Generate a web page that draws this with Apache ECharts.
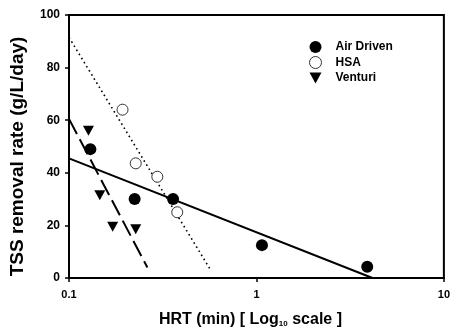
<!DOCTYPE html>
<html><head><meta charset="utf-8">
<script src="https://cdn.jsdelivr.net/npm/echarts@6/dist/echarts.min.js"></script>
<style>html,body{margin:0;padding:0;background:#fff}#c{width:453px;height:334px}</style>
</head><body><div id="c"></div>
<script>
// Data (HRT in min, TSS removal rate in g/L/day)
var airDriven = [[0.130, 49], [0.224, 30], [0.359, 30], [1.07, 12.5], [3.9, 4.3]];
var hsa = [[0.193, 64], [0.227, 43.6], [0.296, 38.5], [0.378, 25]];
var venturi = [[0.127, 56], [0.146, 31.5], [0.171, 19.5], [0.227, 18.5]];
// Fitted lines (endpoints)
var airFit = [[0.1, 45.5], [4.16, 0]];
var hsaFit = [[0.1, 91.5], [0.57, 3]];
var venturiFit = [[0.1, 60.5], [0.262, 4]];
var xTicks = [0.1, 1, 10];
var yTicks = [0, 20, 40, 60, 80, 100];

var font = 'Liberation Sans, Arial, sans-serif';
var downTri = 'path://M0,0 L10,0 L5,9 Z';
var chart = echarts.init(document.getElementById('c'), null, {renderer: 'canvas'});
chart.setOption({
  animation: false,
  backgroundColor: '#fff',
  grid: {left: 69, right: 8, top: 15, bottom: 56, show: true, borderColor: '#000', borderWidth: 2, backgroundColor: 'transparent'},
  legend: {
    orient: 'vertical', left: 309, top: 41, padding: 0, itemWidth: 12, itemHeight: 12, itemGap: 3,
    data: [
      {name: 'Air Driven', icon: 'circle', itemStyle: {color: '#000', opacity: 1}},
      {name: 'HSA', icon: 'circle', itemStyle: {color: '#fff', borderColor: '#333', borderWidth: 1, opacity: 1}},
      {name: 'Venturi', icon: downTri, itemStyle: {color: '#000', opacity: 1}}
    ],
    textStyle: {fontFamily: font, fontWeight: 'bold', fontSize: 12, color: '#000', padding: [0, 0, 0, 9]}
  },
  xAxis: {
    type: 'log', logBase: 10, min: 0.1, max: 10,
    name: 'HRT (min) [ Log{sub|10} scale ]', nameLocation: 'middle', nameGap: 33,
    nameTextStyle: {fontFamily: font, fontWeight: 'bold', fontSize: 16, color: '#000', padding: [0, 12, 0, 0],
      rich: {sub: {fontFamily: font, fontWeight: 'bold', fontSize: 8, verticalAlign: 'bottom', padding: [9,0,0,0], color: '#000'}}},
    axisLine: {lineStyle: {color: '#000', width: 2}},
    axisTick: {show: true, inside: false, length: 4, lineStyle: {color: '#000', width: 1.5}},
    axisLabel: {fontFamily: font, fontWeight: 'bold', fontSize: 11, color: '#000', margin: 11,
      formatter: function (v) { return xTicks.indexOf(+v.toFixed(3)) >= 0 ? String(+v.toFixed(3)) : ''; }},
    splitLine: {show: false}
  },
  yAxis: {
    type: 'value', min: 0, max: 100, interval: 20,
    name: 'TSS removal rate (g/L/day)', nameLocation: 'middle', nameGap: 42,
    nameTextStyle: {fontFamily: font, fontWeight: 'bold', fontSize: 19, color: '#000', padding: [0, 20, 0, 0]},
    axisLine: {lineStyle: {color: '#000', width: 2}},
    axisTick: {show: true, inside: false, length: 4, lineStyle: {color: '#000', width: 1.5}},
    axisLabel: {fontFamily: font, fontWeight: 'bold', fontSize: 12, color: '#000', margin: 9,
      formatter: function (v) { return yTicks.indexOf(v) >= 0 ? String(v) : ''; }},
    splitLine: {show: false}
  },
  series: [
    {name: 'Air Driven', type: 'scatter', data: airDriven, symbol: 'circle', symbolSize: 12,
      itemStyle: {color: '#000', opacity: 1}, z: 5},
    {name: 'HSA', type: 'scatter', data: hsa, symbol: 'circle', symbolSize: 11,
      itemStyle: {color: '#fff', borderColor: '#333', borderWidth: 1, opacity: 1}, z: 5},
    {name: 'Venturi', type: 'scatter', data: venturi, symbol: downTri, symbolSize: [11, 10],
      itemStyle: {color: '#000', opacity: 1}, z: 5},
    {name: 'airFit', type: 'line', data: airFit, showSymbol: false, symbol: 'none',
      lineStyle: {color: '#000', width: 2}, z: 3},
    {name: 'hsaFit', type: 'line', data: hsaFit, showSymbol: false, symbol: 'none',
      lineStyle: {color: '#000', width: 1.6, type: [1.6, 3.2]}, z: 3},
    {name: 'venturiFit', type: 'line', data: venturiFit, showSymbol: false, symbol: 'none',
      lineStyle: {color: '#000', width: 2, type: [17, 6]}, z: 3}
  ]
});
</script></body></html>
